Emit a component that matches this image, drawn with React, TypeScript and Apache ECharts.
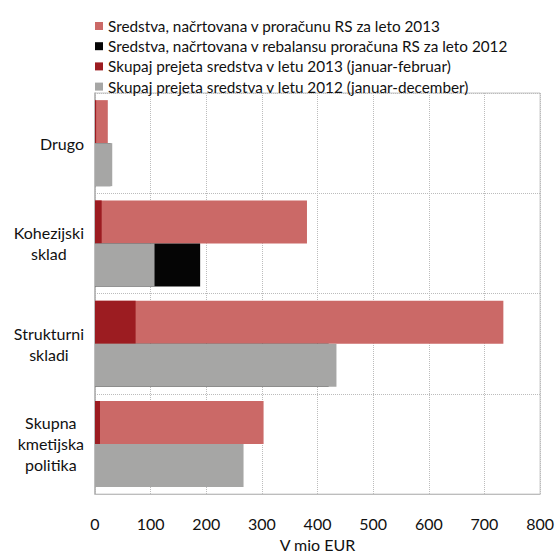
import React, { useEffect, useRef } from "react";
import * as echarts from "echarts";

// Categories, listed from top to bottom
const categories = ["Drugo", "Kohezijski\nsklad", "Strukturni\nskladi", "Skupna\nkmetijska\npolitika"];

// V mio EUR
const planned2013 = [23, 381, 734, 303];
const planned2012 = [28, 189, 420, 255];
const received2013 = [2, 12, 73, 9];
const received2012 = [31, 107, 434, 267];

const xTicks = [0, 100, 200, 300, 400, 500, 600, 700, 800];

const seriesNames = [
  "Sredstva, načrtovana v proračunu RS za leto 2013",
  "Sredstva, načrtovana v rebalansu proračuna RS za leto 2012",
  "Skupaj prejeta sredstva v letu 2013 (januar-februar)",
  "Skupaj prejeta sredstva v letu 2012 (januar-december)",
];

const colors = ["#CB6967", "#050505", "#9C1C21", "#A6A6A5"];

const FONT = "Lato";

export default function App() {
  const ref = useRef<HTMLDivElement>(null);

  useEffect(() => {
    if (!ref.current) return;
    const chart = echarts.init(ref.current, undefined, { renderer: "svg", width: 557, height: 557 });

    const barCommon = {
      type: "bar" as const,
      barWidth: 43,
      barGap: "0%",
    };

    const yAxisCommon = {
      type: "category" as const,
      data: categories,
      inverse: true,
    };

    chart.setOption({
      animation: false,
      textStyle: { fontFamily: FONT },
      legend: {
        orient: "vertical",
        left: 90,
        top: 13,
        itemWidth: 8,
        itemHeight: 8,
        itemGap: 4.2,
        icon: "rect",
        data: seriesNames,
        textStyle: { fontFamily: FONT, fontSize: 15.3, color: "#111", lineHeight: 16 },
      },
      grid: {
        left: 95,
        top: 93,
        width: 446,
        height: 415,
        show: true,
        borderColor: "#c4c4c4",
        borderWidth: 1,
      },
      xAxis: {
        type: "value",
        min: xTicks[0],
        max: xTicks[xTicks.length - 1],
        interval: 100,
        name: "V mio EUR",
        nameLocation: "middle",
        nameGap: 36,
        nameTextStyle: { fontFamily: FONT, fontSize: 16, color: "#111" },
        axisLine: { show: true, lineStyle: { color: "#bdbdbd", width: 1 } },
        axisTick: { show: false },
        axisLabel: { fontFamily: FONT, fontSize: 16, color: "#111", margin: 21 },
        splitLine: { show: true, lineStyle: { type: "dotted", color: "#bcbcbc", width: 1 } },
      },
      yAxis: [
        {
          ...yAxisCommon,
          axisLine: { show: true, lineStyle: { color: "#b0b0b0", width: 1.5 } },
          axisTick: { show: false },
          axisLabel: {
            margin: 11,
            interval: 0,
            formatter: (v: string) => v.split("\n").map((s) => `{c|${s}}`).join("\n"),
            rich: {
              c: { align: "center", fontFamily: FONT, fontSize: 16, color: "#111", lineHeight: 21 },
            },
          },
          splitLine: { show: true, interval: 0, lineStyle: { type: "dotted", color: "#bcbcbc", width: 1 } },
        },
        { ...yAxisCommon, show: false },
      ],
      series: [
        { ...barCommon, name: seriesNames[0], yAxisIndex: 0, data: planned2013, itemStyle: { color: colors[0] }, z: 2 },
        { ...barCommon, name: seriesNames[1], yAxisIndex: 0, data: planned2012, itemStyle: { color: colors[1] }, z: 2 },
        { ...barCommon, name: seriesNames[2], yAxisIndex: 1, data: received2013, itemStyle: { color: colors[2] }, z: 3 },
        { ...barCommon, name: seriesNames[3], yAxisIndex: 1, data: received2012, itemStyle: { color: colors[3] }, z: 3 },
      ],
    });

    return () => chart.dispose();
  }, []);

  return <div ref={ref} style={{ position: "absolute", left: 0, top: 0, width: 557, height: 557 }} />;
}
